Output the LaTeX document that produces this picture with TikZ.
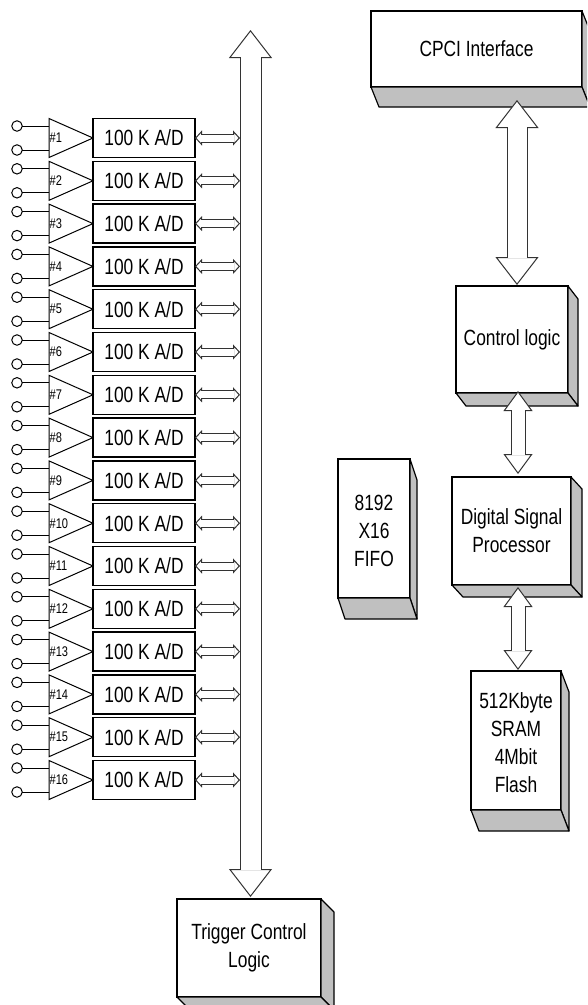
\documentclass[tikz,border=0pt]{standalone}
\usepackage{fontspec}
\setmainfont[FakeStretch=0.79]{Liberation Sans}
\usetikzlibrary{arrows.meta,calc,positioning,shapes.geometric}
\definecolor{sidegray}{RGB}{192,192,192}
\tikzset{
    block/.style={draw, fill=white, line width=1.5pt, inner sep=0pt, outer sep=0pt, align=center, font=\fontsize{22}{28}\selectfont},
    amp/.style={draw, fill=white, line width=1pt, isosceles triangle, isosceles triangle stretches, minimum width=39pt, minimum height=44pt, inner sep=0pt, outer sep=0pt},
    pin/.style={draw, circle, line width=1pt, minimum size=10.5pt, inner sep=0pt, outer sep=0pt},
    channum/.style={inner sep=0pt, font=\fontsize{14}{14}\selectfont},
    hollow/.style n args={3}{line width=#1, draw=black!80,
        {Triangle[length=#3, width=#2, fill=white, line width=1pt]}-{Triangle[length=#3, width=#2, fill=white, line width=1pt]},
        postaction={draw=white, -, line width=#1-2pt, shorten <=#3-1pt, shorten >=#3-1pt}},
}
\newcommand{\sidefaces}[3]{
    \draw[fill=sidegray, line width=1.2pt, line join=round] (#1.north east) -- ++(#2,#3) -- ($(#1.south east)+(#2,#3)$) -- (#1.south east) -- cycle;
    \draw[fill=sidegray, line width=1.2pt, line join=round] (#1.south west) -- ++(#2,#3) -- ($(#1.south east)+(#2,#3)$) -- (#1.south east) -- cycle;
}
\newcommand{\lowerfirst}{\rule{0pt}{20pt}}
\begin{document}
\begin{tikzpicture}[x=1pt, y=-1pt]
    \clip (0,0) rectangle (587,1005);

    % 3D blocks
    \node[block, minimum width=211pt, minimum height=76pt] (cpci) at (476.5,49) {CPCI Interface};
    \sidefaces{cpci}{8}{20}
    \node[block, minimum width=112pt, minimum height=107pt] (ctrl) at (512,339.5) {Control logic};
    \sidefaces{ctrl}{10}{13}
    \node[block, minimum width=119pt, minimum height=108pt] (dsp) at (511.5,531) {Digital Signal\\Processor};
    \sidefaces{dsp}{11}{12}
    \node[block, minimum width=72pt, minimum height=139pt] (fifo) at (374,528.5) {\lowerfirst 8192\\X16\\FIFO};
    \sidefaces{fifo}{7}{21}
    \node[block, minimum width=90pt, minimum height=139pt] (sram) at (516,740.5) {\lowerfirst 512Kbyte\\SRAM\\4Mbit\\Flash};
    \sidefaces{sram}{8}{21}
    \node[block, minimum width=144pt, minimum height=98pt] (trigger) at (249,948) {Trigger Control\\Logic};
    \sidefaces{trigger}{13}{13}

    % Bus
    \coordinate (bustop) at (250.5,30);
    \draw[hollow={22pt}{43pt}{28pt}] (bustop) -- ([yshift=2pt]bustop |- trigger.north);

    % Channels
    \foreach \i in {1,...,16} {
        \pgfmathsetmacro{\rowy}{138+42.8*(\i-1)}
        \node[block, minimum width=102pt, minimum height=39pt] (adc\i) at (144,\rowy) {100 K A/D};
        \node[amp, left=0pt of adc\i] (amp\i) {};
        \node[channum, anchor=west] (num\i) at (49.5,\rowy) {\#\i};
        \node[pin] (pina\i) at (17,\rowy-12) {};
        \node[pin] (pinb\i) at (17,\rowy+12) {};
        \draw[line width=1pt] (pina\i) -- (pina\i -| amp\i.lower side);
        \draw[line width=1pt] (pinb\i) -- (pinb\i -| amp\i.lower side);
        \coordinate (tap\i) at (240,\rowy);
        \draw[hollow={9pt}{15pt}{7pt}] (adc\i.east) -- (tap\i);
    }

    % Links
    \draw[hollow={21pt}{43pt}{28pt}] ([xshift=40.5pt,yshift=-13pt]cpci.south) -- ([xshift=5pt,yshift=1pt]ctrl.north);
    \draw[hollow={15pt}{29pt}{20pt}] ([xshift=6pt,yshift=2pt]ctrl.south) -- ([xshift=6.5pt,yshift=3pt]dsp.north);
    \draw[hollow={15pt}{29pt}{20pt}] ([xshift=6.5pt,yshift=-2pt]dsp.south) -- ([xshift=2pt,yshift=1pt]sram.north);
\end{tikzpicture}
\end{document}
